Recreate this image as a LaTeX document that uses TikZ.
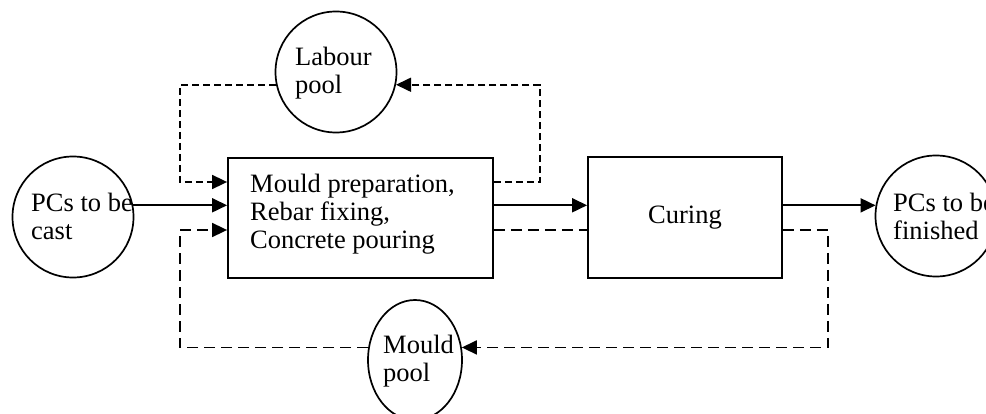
\documentclass[tikz,border=0pt]{standalone}
\usepackage{fontspec}
\setmainfont{Liberation Serif}
\usetikzlibrary{arrows.meta,shapes.geometric,calc}
\begin{document}
\begin{tikzpicture}[x=1pt,y=-1pt,
  every node/.style={inner sep=0pt},
  pool/.style={draw,line width=1.7pt,circle,minimum size=121pt},
  proc/.style={draw,line width=1.8pt,rectangle},
  lbl/.style={anchor=north west,align=left,font=\fontsize{26.5}{28}\selectfont},
  head/.style={-{Triangle[length=15pt,width=14pt]}},
  flow/.style={line width=1.8pt,head},
  shortdash/.style={line width=1.7pt,dash pattern=on 7pt off 4pt},
  longdash/.style={line width=1.7pt,dash pattern=on 11pt off 6pt}]
\fill[white] (0,0) rectangle (986,414);
\useasboundingbox (0,0) rectangle (986,414);

% process boxes
\node[proc,minimum width=265pt,minimum height=120pt] (b1) at (360.5,218) {};
\node[proc,minimum width=194pt,minimum height=121pt] (cur) at (685,217.5) {};

% pools, sources and sinks
\node[pool] (lc) at (73,217) {};
\node[pool] (lab) at (336,72) {};
\node[pool] (rc) at (936,216) {};
\node[draw,line width=1.7pt,ellipse,minimum width=94pt,minimum height=120pt] (mp) at (415,360) {};

% labels
\node[lbl] (t1) at (250,174) {Mould preparation,\\Rebar fixing,\\Concrete pouring};
\node[font=\fontsize{26.5}{28}\selectfont,anchor=base] (t2) at (685,224) {Curing};
\node[lbl] (t3) at (31,193) {PCs to be\\cast};
\node[lbl] (t4) at (893,193) {PCs to be\\finished};
\node[lbl] (t5) at (295,47) {Labour\\pool};
\node[lbl] (t6) at (383,335) {Mould\\pool};

% levels of the connectors
\coordinate (ytop) at (0,182);
\coordinate (ybot) at (0,230);
\coordinate (lx) at (180,0);
\coordinate (rx1) at (540,0);
\coordinate (rx2) at (828,0);

% material flow
\draw[flow] (lc.11) -- (b1.west |- lc.11);
\draw[flow] (b1.east |- lc.11) -- (cur.west |- lc.11);
\draw[flow] (cur.east |- rc.170) -- (rc.170);

% labour loop
\draw[shortdash,head] (lab.192) -| (lx |- ytop) -- (b1.west |- ytop);
\draw[shortdash,head] (b1.east |- ytop) -| (rx1 |- lab.348) -- (lab.348);

% mould loop
\draw[longdash] (b1.east |- ybot) -- (cur.west |- ybot);
\draw[longdash,head] (cur.east |- ybot) -| (rx2 |- mp.15) -- (mp.15);
\draw[longdash,head] (mp.165) -| (lx |- ybot) -- (b1.west |- ybot);
\end{tikzpicture}
\end{document}
